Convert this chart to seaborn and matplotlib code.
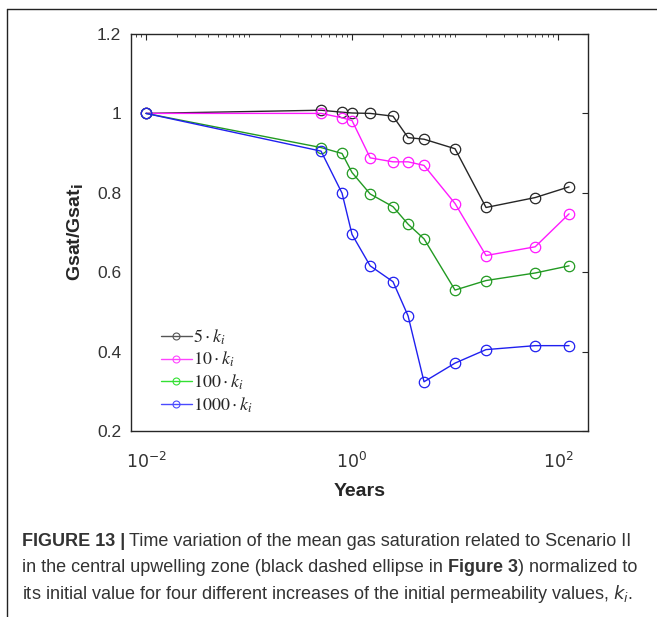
import numpy as np
import pandas as pd
import matplotlib
matplotlib.use("Agg")
import matplotlib.pyplot as plt
import seaborn as sns
from matplotlib.lines import Line2D
from matplotlib.ticker import LogLocator, NullFormatter, FixedLocator

# time points (years) and normalised gas saturation for each permeability increase
years = [0.01, 0.5, 0.8, 1.0, 1.5, 2.5, 3.5, 5.0, 10.0, 20.0, 60.0, 128.0]
gsat_5 = [1.0, 1.008, 1.003, 1.001, 1.0, 0.993, 0.939, 0.935, 0.911, 0.763, 0.788, 0.815]
gsat_10 = [1.0, 1.0, 0.989, 0.982, 0.888, 0.878, 0.878, 0.869, 0.773, 0.642, 0.664, 0.747]
gsat_100 = [1.0, 0.914, 0.899, 0.851, 0.797, 0.765, 0.721, 0.684, 0.555, 0.579, 0.598, 0.616]
gsat_1000 = [1.0, 0.905, 0.799, 0.695, 0.616, 0.576, 0.490, 0.324, 0.371, 0.405, 0.415, 0.415]

labels = [r"$5\cdot k_i$", r"$10\cdot k_i$", r"$100\cdot k_i$", r"$1000\cdot k_i$"]
colors = ["#262626", "#ff1aff", "#229a22", "#2020f0"]
leg_colors = ["#555555", "#ff44ff", "#33e033", "#4a4aff"]

yticks = [0.2, 0.4, 0.6, 0.8, 1.0, 1.2]
ytick_labels = ["0.2", "0.4", "0.6", "0.8", "1", "1.2"]

df = pd.DataFrame({
    "Years": years * 4,
    "ratio": gsat_5 + gsat_10 + gsat_100 + gsat_1000,
    "case": [lab for lab in labels for _ in years],
})

sns.set_style("white")
plt.rcParams["font.family"] = ["Liberation Sans", "DejaVu Sans"]

fig = plt.figure(figsize=(6.57, 6.17), dpi=100)
ax = fig.add_axes([131 / 657, 1 - 431 / 617, (588 - 131) / 657, (431 - 34) / 617])

for lab, col in zip(labels, colors):
    sns.lineplot(data=df[df["case"] == lab], x="Years", y="ratio", ax=ax,
                 color=col, marker="o", markersize=7.5, mfc="none", mec=col,
                 mew=0.9, lw=1.0, legend=False, sort=False)

ax.set_xscale("log")
ax.set_xlim(10 ** -2.146, 10 ** 2.291)
ax.set_ylim(0.2, 1.2)

ax.xaxis.set_major_locator(FixedLocator([1e-2, 1e0, 1e2]))
ax.xaxis.set_minor_locator(LogLocator(base=10, subs=np.arange(1, 10), numticks=20))
ax.xaxis.set_minor_formatter(NullFormatter())
ax.set_xticklabels([r"$10^{-2}$", r"$10^{0}$", r"$10^{2}$"])
ax.set_yticks(yticks)
ax.set_yticklabels(ytick_labels)

tick_col = "#262626"
ax.tick_params(which="both", direction="in", top=True, right=True,
               colors=tick_col, labelcolor="#333333", labelsize=12.5)
ax.tick_params(which="major", length=4, width=0.8)
ax.tick_params(which="minor", length=2, width=0.6)
ax.tick_params(axis="x", pad=14)
ax.tick_params(axis="y", pad=7)
for sp in ax.spines.values():
    sp.set_visible(True)
    sp.set_color(tick_col)
    sp.set_linewidth(1.0)

ax.set_xlabel("Years", fontsize=14, fontweight="bold", color="#262626", labelpad=9)
ax.set_ylabel(r"Gsat/Gsat$_{\mathbf{i}}$", fontsize=14, fontweight="bold",
              color="#262626", labelpad=8)

handles = [Line2D([0], [0], color=c, marker="o", markersize=5, mfc="none",
                  mec=c, mew=0.8, lw=1.0) for c in leg_colors]
ax.legend(handles, labels, loc="lower left", bbox_to_anchor=(0.03, 0.0),
          frameon=False, handlelength=1.7, handletextpad=0.1, labelspacing=0.18,
          prop={"size": 13, "math_fontfamily": "stix"})

# page frame lines
fig.add_artist(Line2D([7 / 657, 7 / 657], [0, 1 - 9 / 617], color="#222222",
                      lw=1.0, transform=fig.transFigure))
fig.add_artist(Line2D([7 / 657, 1], [1 - 9 / 617, 1 - 9 / 617], color="#222222",
                      lw=1.0, transform=fig.transFigure))

# caption
cap_fam = ["Liberation Sans Narrow", "Liberation Sans"]
cap_col = "#333333"
cap_size = 13
y1 = 1 - 542 / 617
t = fig.text(22 / 657, y1, "FIGURE 13 |", fontsize=cap_size, fontweight="bold",
             family=cap_fam, color=cap_col, va="center")
fig.canvas.draw()
bb = t.get_window_extent()
fig.text((bb.x1 + 4) / 657, y1,
         "Time variation of the mean gas saturation related to Scenario II",
         fontsize=cap_size, family=cap_fam, color=cap_col, va="center")

y2 = 1 - 568 / 617
t2 = fig.text(22 / 657, y2, "in the central upwelling zone (black dashed ellipse in ",
              fontsize=cap_size, family=cap_fam, color=cap_col, va="center")
fig.canvas.draw()
bb2 = t2.get_window_extent()
t3 = fig.text(bb2.x1 / 657, y2, "Figure 3", fontsize=cap_size, fontweight="bold",
              family=cap_fam, color=cap_col, va="center")
fig.canvas.draw()
bb3 = t3.get_window_extent()
fig.text(bb3.x1 / 657, y2, ") normalized to", fontsize=cap_size, family=cap_fam,
         color=cap_col, va="center")

y3 = 1 - 594 / 617
fig.text(22 / 657, y3,
         r"its initial value for four different increases of the initial permeability values, $k_i$.",
         fontsize=cap_size, family=cap_fam, color=cap_col, va="center")

fig.savefig("out.png", dpi=100)
